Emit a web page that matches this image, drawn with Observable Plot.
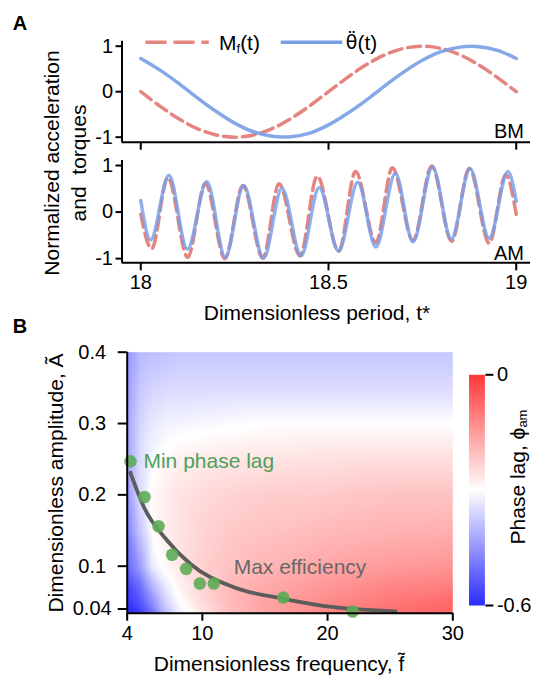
<!DOCTYPE html>
<html>
<head>
<meta charset="utf-8">
<script src="https://cdn.jsdelivr.net/npm/d3@7"></script>
<script src="https://cdn.jsdelivr.net/npm/@observablehq/plot@0.6"></script>
<style>
  html, body { margin: 0; padding: 0; background: #fff; }
  #fig { position: relative; width: 534px; height: 681px; overflow: hidden;
         font-family: "Liberation Sans", Arial, Helvetica, sans-serif; }
</style>
</head>
<body>
<div id="fig"></div>
<script>
// ---------------- DATA ----------------
// Panel A, BM (one beat per unit time)
const BM_T = [18, 18.05, 18.1, 18.15, 18.2, 18.25, 18.3, 18.35, 18.4, 18.45, 18.5,
              18.55, 18.6, 18.65, 18.7, 18.75, 18.8, 18.85, 18.9, 18.95, 19];
const BM_MF = [0, -0.31, -0.59, -0.81, -0.95, -1.0, -0.95, -0.81, -0.59, -0.31, 0,
               0.31, 0.59, 0.81, 0.95, 1.0, 0.95, 0.81, 0.59, 0.31, 0];
const BM_THETA = [0.73, 0.48, 0.19, -0.13, -0.43, -0.69, -0.88, -0.98, -0.99, -0.91, -0.73,
                  -0.48, -0.19, 0.13, 0.43, 0.69, 0.88, 0.98, 0.99, 0.91, 0.73];

// Panel A, AM (extrema and end points)
const AM_THETA_T = [18.000, 18.026, 18.075, 18.124, 18.176, 18.225, 18.274, 18.327, 18.376, 18.427, 18.475,
                    18.527, 18.578, 18.626, 18.678, 18.725, 18.777, 18.827, 18.877, 18.928, 18.978, 19.000];
const AM_THETA = [0.25, -0.60, 0.79, -0.80, 0.65, -0.97, 0.57, -0.99, 0.51, -0.94, 0.53,
                  -0.84, 0.64, -0.75, 0.83, -0.64, 0.97, -0.58, 0.93, -0.56, 0.87, 0.23];
const AM_MF_T = [18.000, 18.029, 18.072, 18.125, 18.172, 18.224, 18.272, 18.325, 18.368, 18.424, 18.470,
                 18.527, 18.572, 18.626, 18.670, 18.725, 18.775, 18.828, 18.875, 18.928, 18.972, 19.000];
const AM_MF = [-0.05, -0.79, 0.74, -0.97, 0.62, -1.0, 0.57, -0.99, 0.61, -0.94, 0.77,
               -0.84, 0.87, -0.66, 0.95, -0.61, 0.99, -0.63, 0.94, -0.67, 0.80, -0.05];

const T_TICKS = [18, 18.5, 19];
const NORM_TICKS = [-1, 0, 1];

// Panel B, phase lag map
const FREQS = [4, 5, 6, 7, 8, 10, 12, 15, 20, 25, 30];
const AMPS = [0.0341, 0.05, 0.075, 0.1, 0.15, 0.2, 0.25, 0.3, 0.35, 0.4];
const PHASE = [
  [-0.60, -0.57, -0.50, -0.40, -0.33, -0.26, -0.21, -0.165, -0.12, -0.085, -0.065],
  [-0.59, -0.54, -0.46, -0.37, -0.31, -0.245, -0.20, -0.16, -0.125, -0.095, -0.075],
  [-0.56, -0.50, -0.40, -0.33, -0.285, -0.235, -0.20, -0.175, -0.145, -0.12, -0.11],
  [-0.52, -0.44, -0.33, -0.29, -0.265, -0.23, -0.21, -0.19, -0.165, -0.15, -0.14],
  [-0.48, -0.38, -0.30, -0.275, -0.26, -0.235, -0.22, -0.21, -0.195, -0.185, -0.18],
  [-0.45, -0.35, -0.29, -0.275, -0.26, -0.245, -0.235, -0.225, -0.22, -0.21, -0.21],
  [-0.43, -0.35, -0.31, -0.29, -0.28, -0.27, -0.265, -0.26, -0.255, -0.25, -0.25],
  [-0.43, -0.36, -0.33, -0.32, -0.315, -0.31, -0.305, -0.30, -0.30, -0.30, -0.30],
  [-0.44, -0.38, -0.36, -0.355, -0.35, -0.35, -0.35, -0.35, -0.35, -0.35, -0.35],
  [-0.45, -0.40, -0.39, -0.385, -0.38, -0.38, -0.38, -0.38, -0.38, -0.38, -0.38]
];
// Measured points (green), first one is the minimum phase lag
const PTS_F = [4.26, 5.38, 6.50, 7.59, 8.71, 9.80, 10.92, 16.46, 22.0];
const PTS_A = [0.247, 0.197, 0.156, 0.116, 0.0963, 0.0757, 0.0757, 0.0561, 0.0365];
// Max-efficiency curve
const FIT_F = [4.26, 5.33, 7.19, 9.05, 12.51, 16.5, 20.5, 25.42];
const FIT_A = [0.231, 0.183, 0.136, 0.103, 0.0705, 0.0543, 0.0425, 0.0365];

const F_TICKS = [4, 10, 20, 30];
const A_TICKS = [0.04, 0.1, 0.2, 0.3, 0.4];
const PHI_TICKS = [-0.6, 0];

// ---------------- BUILD ----------------
const FONT = '"Liberation Sans", Arial, Helvetica, sans-serif';
const RED = "#e4857f", BLUE = "#789fe6";
const fig = document.getElementById("fig");
const baseStyle = {fontFamily: FONT, fontSize: "20px", background: "transparent", color: "#000", overflow: "visible"};
function place(el, left, top) {
  el.style.position = "absolute";
  el.style.left = left + "px";
  el.style.top = top + "px";
  fig.appendChild(el);
}
const fmt = d => String(d);
const X_DOMAIN = [17.95, 19.038];

const bmData = BM_T.map((t, i) => ({t, mf: BM_MF[i], th: BM_THETA[i]}));
const amTheta = AM_THETA_T.map((t, i) => ({t, v: AM_THETA[i]}));
const amMf = AM_MF_T.map((t, i) => ({t, v: AM_MF[i]}));

const BM_Y = [-1.11, 1.11];
const bm = Plot.plot({
  width: 534, height: 160,
  marginLeft: 121.5, marginRight: 4, marginTop: 40.7, marginBottom: 18.3,
  style: baseStyle,
  x: {domain: X_DOMAIN},
  y: {domain: BM_Y},
  marks: [
    Plot.line(bmData, {x: "t", y: "mf", stroke: RED, strokeWidth: 3.5, strokeDasharray: "13,6", curve: "catmull-rom"}),
    Plot.line(bmData, {x: "t", y: "th", stroke: BLUE, strokeWidth: 3.5, strokeOpacity: 0.9, curve: "catmull-rom"}),
    Plot.ruleX([X_DOMAIN[0]], {stroke: "#000", strokeWidth: 2}),
    Plot.ruleY([BM_Y[0]], {stroke: "#000", strokeWidth: 2}),
    Plot.axisY(NORM_TICKS, {tickSize: 6, tickPadding: 3, tickFormat: fmt, fontSize: 20, strokeWidth: 2, label: null}),
    Plot.axisX(T_TICKS, {tickSize: 8, tickFormat: () => "", strokeWidth: 2, label: null})
  ]
});
place(bm, 0, 0);

const AM_Y = [-1.09, 1.11];
const am = Plot.plot({
  width: 534, height: 180,
  marginLeft: 121.5, marginRight: 4, marginTop: 9.9, marginBottom: 67.7,
  style: baseStyle,
  x: {domain: X_DOMAIN},
  y: {domain: AM_Y},
  marks: [
    Plot.line(amMf, {x: "t", y: "v", stroke: RED, strokeWidth: 3.5, strokeDasharray: "13,6", curve: "monotone-x"}),
    Plot.line(amTheta, {x: "t", y: "v", stroke: BLUE, strokeWidth: 3.5, strokeOpacity: 0.82, curve: "monotone-x"}),
    Plot.ruleX([X_DOMAIN[0]], {stroke: "#000", strokeWidth: 2}),
    Plot.ruleY([AM_Y[0]], {stroke: "#000", strokeWidth: 2}),
    Plot.axisY(NORM_TICKS, {tickSize: 6, tickPadding: 3, tickFormat: fmt, fontSize: 20, strokeWidth: 2, label: null}),
    Plot.axisX(T_TICKS, {tickSize: 8, tickPadding: 4, tickFormat: fmt, fontSize: 20, strokeWidth: 2, label: null})
  ]
});
place(am, 0, 150);

// Panel B
const A_DOMAIN = [0.0341, 0.4];
const colorScale = {type: "linear", domain: [-0.6, -0.3, 0], range: ["#2b2bff", "#ffffff", "#ff3838"], interpolate: "rgb"};
const GRID = AMPS.flatMap((a, i) => FREQS.map((f, j) => ({f, a, v: PHASE[i][j]})));
const PTS = PTS_F.map((f, i) => ({f, a: PTS_A[i]}));
const FIT = FIT_F.map((f, i) => ({f, a: FIT_A[i]}));

const pB = Plot.plot({
  width: 534, height: 351,
  marginLeft: 126.7, marginRight: 81.7, marginTop: 21.7, marginBottom: 68.3,
  style: baseStyle,
  x: {domain: [4, 30]},
  y: {domain: A_DOMAIN},
  color: colorScale,
  marks: [
    Plot.raster(GRID, {x: "f", y: "a", fill: "v", interpolate: "barycentric",
                       x1: 4, x2: 30, y1: A_DOMAIN[0], y2: A_DOMAIN[1]}),
    Plot.line(FIT, {x: "f", y: "a", stroke: "#5c5c5c", strokeWidth: 3.8, curve: "monotone-x"}),
    Plot.dot(PTS, {x: "f", y: "a", r: 6.3, fill: "#5dac56", fillOpacity: 0.9}),
    Plot.text(PTS.slice(0, 1), {x: "f", y: "a", text: () => "Min phase lag", textAnchor: "start", dx: 13,
                                 fill: "#4ea05b", fontSize: 21}),
    Plot.text([{f: 12.5, a: 0.098}], {x: "f", y: "a", text: () => "Max efficiency", textAnchor: "start",
                                      fill: "#676767", fontSize: 21}),
    Plot.ruleX([4], {stroke: "#000", strokeWidth: 2}),
    Plot.ruleY([A_DOMAIN[0]], {stroke: "#000", strokeWidth: 2}),
    Plot.axisY(A_TICKS, {tickSize: 9, tickPadding: 26, textAnchor: "middle", tickFormat: fmt, fontSize: 20, strokeWidth: 2, label: null}),
    Plot.axisX(F_TICKS, {tickSize: 8, tickPadding: 5, tickFormat: fmt, fontSize: 20, strokeWidth: 2, label: null})
  ]
});
place(pB, 0, 330);

// Colour bar
const cb = Plot.plot({
  width: 74, height: 260,
  marginLeft: 8.5, marginRight: 49.6, marginTop: 14.3, marginBottom: 15,
  style: baseStyle,
  x: {domain: [0, 1], axis: null},
  y: {domain: [-0.6, 0]},
  color: colorScale,
  marks: [
    Plot.raster({x1: 0, x2: 1, y1: -0.6, y2: 0, fill: (x, y) => y}),
    Plot.axisY(PHI_TICKS, {anchor: "right", tickSize: 8, tickPadding: 4, tickFormat: fmt, fontSize: 20, strokeWidth: 2, label: null})
  ]
});
place(cb, 460, 360);

// Overlay: panel letters, titles, legend
const ns = "http://www.w3.org/2000/svg";
const ov = document.createElementNS(ns, "svg");
ov.setAttribute("width", 534);
ov.setAttribute("height", 681);
ov.style.pointerEvents = "none";
ov.setAttribute("font-family", FONT);
ov.innerHTML = `
  <text x="20" y="23" font-size="20" font-weight="bold" text-anchor="middle" dominant-baseline="central">A</text>
  <text x="20" y="326" font-size="20" font-weight="bold" text-anchor="middle" dominant-baseline="central">B</text>
  <g font-size="21" text-anchor="middle" dominant-baseline="central">
    <text transform="translate(51.7,163) rotate(-90)">Normalized acceleration</text>
    <text transform="translate(78.3,163) rotate(-90)">and&#160; torques</text>
    <text x="317" y="312">Dimensionless period, t*</text>
    <text x="279" y="663">Dimensionless frequency, f&#x0303;</text>
    <text transform="translate(55,483) rotate(-90)">Dimensionless amplitude, A&#x0303;</text>
    <text transform="translate(517,477) rotate(-90)">Phase lag, &#x03D5;<tspan font-size="13" dy="5">am</tspan></text>
  </g>
  <g font-size="20" text-anchor="end" dominant-baseline="central">
    <text x="524" y="131">BM</text>
    <text x="524" y="253">AM</text>
  </g>
  <line x1="145.5" x2="208.8" y1="42.3" y2="42.3" stroke="${RED}" stroke-width="3.5" stroke-dasharray="21,7"/>
  <text x="219" y="42.3" font-size="21" dominant-baseline="central">M<tspan font-size="13" dy="6">f</tspan><tspan dy="-6">(t)</tspan></text>
  <line x1="280.7" x2="342.3" y1="42.3" y2="42.3" stroke="${BLUE}" stroke-width="3.5"/>
  <text x="345.8" y="42.3" font-size="21" dominant-baseline="central"><tspan font-family="DejaVu Sans" font-size="19">&#x03B8;&#x0308;</tspan>(t)</text>
`;
place(ov, 0, 0);
</script>
</body>
</html>
